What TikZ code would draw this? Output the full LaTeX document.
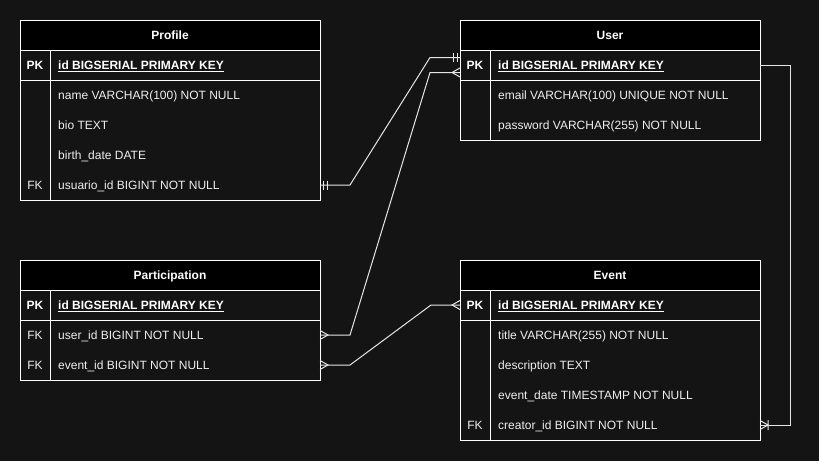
\documentclass[tikz,border=0pt]{standalone}
\usepackage{fontspec}
\setmainfont{Liberation Sans}
\usetikzlibrary{calc}
\definecolor{bg}{HTML}{141414}
\definecolor{txt}{HTML}{EFEFEF}
\definecolor{lnk}{HTML}{E6E6E6}
\newcommand\errow[4]{%
  \node[rowbox,anchor=north west] (#1) at (#2) {};
  \node[keycell] at ($(#1.west)+(15,4.3)$) {#3};
  \node[fieldtxt] at ($(#1.west)+(38,4.3)$) {#4};}
\newcommand\erpkrow[2]{%
  \node[rowbox,anchor=north west] (#1) at (#2) {};
  \node[pkkey] at ($(#1.west)+(15,4.3)$) {PK};
  \node[pkfield] at ($(#1.west)+(38,4.3)$) {\underline{id BIGSERIAL PRIMARY KEY}};}
\begin{document}
\begin{tikzpicture}[x=1pt,y=-1pt,
  fnt/.style={font=\fontsize{12}{14}\selectfont},
  rowbox/.style={minimum width=300pt,minimum height=30pt,inner sep=0pt,outer sep=0pt},
  hdrbox/.style={rowbox,fill=black,text=white,text height=8.6pt,text depth=0pt,
    font=\fontsize{12}{14}\selectfont\bfseries},
  keycell/.style={fnt,anchor=base,inner sep=0pt,text=txt},
  pkkey/.style={keycell,text=white,font=\fontsize{12}{14}\selectfont\bfseries},
  fieldtxt/.style={fnt,anchor=base west,inner sep=0pt,text=txt},
  pkfield/.style={fieldtxt,text=white,font=\fontsize{12}{14}\selectfont\bfseries},
  tbl/.style={draw=white,line width=1pt},
  conn/.style={draw=lnk,line width=1pt},
  crow/.pic={\draw[conn] (0,-4.5) -- (8,0) -- (0,4.5);},
  one/.pic={\draw[conn] (3,-4.5) -- (3,4.5) (7,-4.5) -- (7,4.5);},
  crowbar/.pic={\draw[conn] (0,-4.5) -- (8,0) -- (0,4.5) (8,-5) -- (8,5);}
]
\fill[bg] (0,0) rectangle (819,461);
\useasboundingbox (0,0) rectangle (819,461);

% ---------- Profile
\node[hdrbox,anchor=north west] (profile) at (20,20) {Profile};
\erpkrow{profile-pk}{20,50}
\errow{profile-r1}{20,80}{}{name VARCHAR(100) NOT NULL}
\errow{profile-r2}{20,110}{}{bio TEXT}
\errow{profile-r3}{20,140}{}{birth\_date DATE}
\errow{profile-r4}{20,170}{FK}{usuario\_id BIGINT NOT NULL}
\draw[tbl] (profile.north west) rectangle (profile-r4.south east);
\draw[tbl] (profile-pk.north west) -- (profile-pk.north east)
  (profile-pk.south west) -- (profile-pk.south east)
  ($(profile-pk.north west)+(30,0)$) -- ($(profile-r4.south west)+(30,0)$);

% ---------- User
\node[hdrbox,anchor=north west] (user) at (460,20) {User};
\erpkrow{user-pk}{460,50}
\errow{user-r1}{460,80}{}{email VARCHAR(100) UNIQUE NOT NULL}
\errow{user-r2}{460,110}{}{password VARCHAR(255) NOT NULL}
\draw[tbl] (user.north west) rectangle (user-r2.south east);
\draw[tbl] (user-pk.north west) -- (user-pk.north east)
  (user-pk.south west) -- (user-pk.south east)
  ($(user-pk.north west)+(30,0)$) -- ($(user-r2.south west)+(30,0)$);

% ---------- Participation
\node[hdrbox,anchor=north west] (part) at (20,260) {Participation};
\erpkrow{part-pk}{20,290}
\errow{part-r1}{20,320}{FK}{user\_id BIGINT NOT NULL}
\errow{part-r2}{20,350}{FK}{event\_id BIGINT NOT NULL}
\draw[tbl] (part.north west) rectangle (part-r2.south east);
\draw[tbl] (part-pk.north west) -- (part-pk.north east)
  (part-pk.south west) -- (part-pk.south east)
  ($(part-pk.north west)+(30,0)$) -- ($(part-r2.south west)+(30,0)$);

% ---------- Event
\node[hdrbox,anchor=north west] (event) at (460,260) {Event};
\erpkrow{event-pk}{460,290}
\errow{event-r1}{460,320}{}{title VARCHAR(255) NOT NULL}
\errow{event-r2}{460,350}{}{description TEXT}
\errow{event-r3}{460,380}{}{event\_date TIMESTAMP NOT NULL}
\errow{event-r4}{460,410}{FK}{creator\_id BIGINT NOT NULL}
\draw[tbl] (event.north west) rectangle (event-r4.south east);
\draw[tbl] (event-pk.north west) -- (event-pk.north east)
  (event-pk.south west) -- (event-pk.south east)
  ($(event-pk.north west)+(30,0)$) -- ($(event-r4.south west)+(30,0)$);

% ---------- Connectors
\coordinate (u-in1) at ($(user-pk.west)+(0,-7.5)$);
\coordinate (u-in2) at ($(user-pk.west)+(0,7.5)$);
\draw[conn] (profile-r4.east) -- ++(30,0) -- ($(u-in1)+(-30,0)$) -- (u-in1);
\pic at (profile-r4.east) {one};
\pic[xscale=-1] at (u-in1) {one};

\draw[conn] (part-r1.east) -- ++(30,0) -- ($(u-in2)+(-30,0)$) -- (u-in2);
\pic at (part-r1.east) {crow};
\pic[xscale=-1] at (u-in2) {crow};

\draw[conn] (part-r2.east) -- ++(30,0) -- ($(event-pk.west)+(-29,0)$) -- (event-pk.west);
\pic at (part-r2.east) {crow};
\pic[xscale=-1] at (event-pk.west) {crow};

\draw[conn] (user-pk.east) -- ++(30,0) |- (event-r4.east);
\pic at (event-r4.east) {crowbar};
\end{tikzpicture}
\end{document}
